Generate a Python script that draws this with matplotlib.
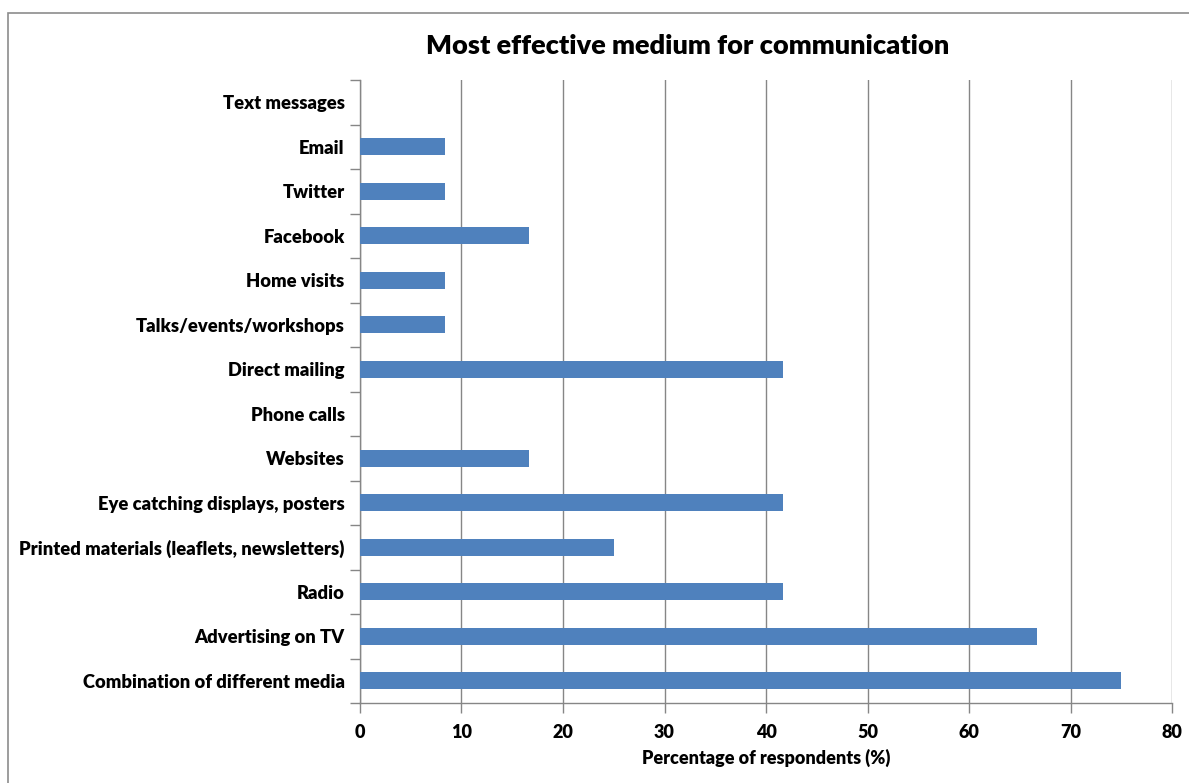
import matplotlib.pyplot as plt
import matplotlib.patches as mpatches
import numpy as np

# categories from bottom to top
categories = ["Combination of different media", "Advertising on TV", "Radio",
              "Printed materials (leaflets, newsletters)", "Eye catching displays, posters",
              "Websites", "Phone calls", "Direct mailing", "Talks/events/workshops",
              "Home visits", "Facebook", "Twitter", "Email", "Text messages"]
values = [75.0, 66.67, 41.67, 25.0, 41.67, 16.67, 0.0, 41.67, 8.33,
          8.33, 16.67, 8.33, 8.33, 0.0]
x_ticks = [0, 10, 20, 30, 40, 50, 60, 70, 80]

plt.rcParams['font.family'] = ['Lato', 'DejaVu Sans']
plt.rcParams['font.weight'] = 'bold'

W, H = 1189, 783
fig = plt.figure(figsize=(W / 100, H / 100), dpi=100)
ax = fig.add_axes([360 / W, 1 - 703 / H, (1172 - 360) / W, (703 - 80) / H])

# outer chart frame (only top and left visible)
frame = mpatches.Rectangle((8 / W, -0.1), 1.2, 1 - 13 / H + 0.1, transform=fig.transFigure,
                           fill=False, edgecolor='#8c8c8c', linewidth=1.2)
fig.patches.append(frame)

y = np.arange(len(categories))
ax.barh(y, values, height=0.38, color='#4F81BD', zorder=3)

ax.set_xlim(0, 80)
ax.set_ylim(-0.5, len(categories) - 0.5)
ax.set_xticks(x_ticks)
ax.set_xticklabels([str(t) for t in x_ticks], fontsize=13, fontweight='heavy')
ax.set_yticks(y)
ax.set_yticklabels(categories, fontsize=13.2, fontweight='heavy')
ax.set_yticks(np.arange(len(categories) + 1) - 0.5, minor=True)
ax.tick_params(axis='y', which='major', length=0, pad=11)
ax.tick_params(axis='y', which='minor', length=7, color='#868686', width=1)
ax.tick_params(axis='x', length=7, color='#868686', width=1, pad=8)

ax.grid(axis='x', color='#868686', linewidth=1, zorder=0)
for s in ['top', 'right']:
    ax.spines[s].set_visible(False)
for s in ['left', 'bottom']:
    ax.spines[s].set_color('#868686')
    ax.spines[s].set_linewidth(1)

ax.set_xlabel("Percentage of respondents (%)", fontsize=13, fontweight='heavy', labelpad=6)
fig.text(688 / W, 1 - 46 / H, "Most effective medium for communication", fontsize=19.5,
         fontweight='heavy', ha='center', va='center')

fig.savefig("out.png", dpi=100)
